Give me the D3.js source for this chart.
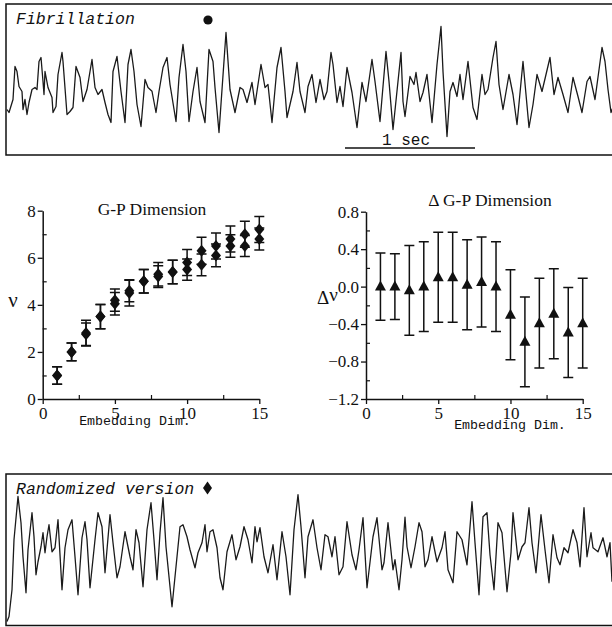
<!DOCTYPE html>
<html><head><meta charset="utf-8">
<script src="https://cdn.jsdelivr.net/npm/d3@7"></script>
<style>body{margin:0;background:#fff;} svg{display:block;}</style>
</head><body>
<script>
// ---------- DATA ----------
const sampleRate = 130; // samples per second (1 sec scale bar)

// Fibrillation trace (sample index, amplitude in arbitrary units)
const fibSample = [1,3,7,9,11,13,16,17,19,21,23,26,29,31,33,35,37,38,39,42,46,47,50,52,56,57,61,64,67,70,74,77,81,86,89,92,96,99,102,105,107,111,115,119,122,125,128,131,135,139,142,146,150,153,157,161,164,170,173,177,180,183,187,191,194,199,203,207,209,213,220,224,229,234,237,241,246,249,255,259,262,266,271,275,279,281,287,291,294,299,302,306,310,314,318,321,325,327,331,334,337,341,346,351,356,360,366,369,374,380,383,387,395,397,399,404,408,410,414,417,421,426,431,435,437,441,444,447,451,454,457,462,467,471,476,479,482,487,490,493,497,503,507,511,517,523,527,531,536,544,548,552,557,562,567,572,576,581,584,589,596,599,602,605,608];
const fibAmp = [-1.2,-1.32,-0.8,0.52,0.32,-0.28,-0.48,-1.2,-0.8,-1.4,-0.92,-0.4,-0.32,-0.4,0.72,0.88,-0.08,-0.6,0.32,-0.32,-0.72,-1.32,-1.08,0.2,1.08,0.72,-1.4,-1.28,-1.12,0.52,0.08,-0.88,-0.4,0.8,-0.32,-0.6,-0.4,-0.92,-1.4,-1.72,0.32,0.92,-0.48,-1.72,0.6,1.2,0.32,-1.0,-1.88,0.0,-0.32,-0.47,-1.32,-0.48,0.48,0.88,-0.2,-1.68,0.08,1.4,0.32,-1.68,-0.48,0.48,-0.88,-1.72,1.2,0.72,-0.32,-2.12,1.88,-0.4,-1.32,-0.32,-0.4,-0.92,-0.12,-1.0,0.6,-0.32,-0.2,-1.72,0.48,1.28,-0.48,-1.52,-0.48,0.68,-0.48,-1.32,-0.28,0.2,-0.92,0.0,-0.8,-0.48,1.08,0.6,-0.92,-0.28,-1.08,0.48,-0.52,-1.92,-0.12,-0.88,0.8,-0.08,-1.68,1.12,-0.08,-2.0,1.08,-0.88,-1.48,0.12,-0.2,0.28,-0.88,-0.52,0.2,-1.72,0.6,2.12,0.32,-2.28,-0.48,-0.12,-0.68,0.2,-0.8,0.72,-1.12,-1.6,0.2,-0.6,-0.4,0.88,1.52,-0.2,-1.2,0.2,-0.6,-1.8,0.72,-1.92,-1.0,0.2,-0.48,0.88,-0.6,0.08,-0.6,-1.32,0.08,-0.68,-1.32,-0.08,0.12,-0.8,1.28,0.72,-0.4,-1.32,-1.0];

// Randomized version trace
const randSample = [1,3,6,8,12,15,17,20,22,26,28,30,32,35,37,39,41,43,46,49,52,56,59,62,66,69,72,76,79,81,84,89,92,96,99,104,107,111,114,119,124,127,130,133,137,141,145,148,151,154,157,160,166,171,174,177,181,184,189,192,196,199,201,204,207,211,214,217,221,226,230,234,238,242,246,249,251,254,258,262,267,271,276,280,284,288,292,295,299,302,307,311,315,319,322,326,329,333,337,341,346,350,353,357,361,367,371,376,378,382,387,389,393,396,399,401,405,409,413,416,419,422,426,431,436,439,442,447,451,456,461,466,469,473,477,481,484,488,492,496,501,505,507,512,516,519,523,526,530,535,539,543,547,551,554,558,562,567,571,574,578,581,585,587,592,597,601,604,606];
const randAmp = [-2.87,-2.67,-1.6,0.4,2.13,1.08,-0.28,-1.72,0.0,1.48,0.52,-1.0,-0.48,0.12,0.68,-0.12,0.52,1.0,-0.08,0.08,1.2,-1.6,0.08,0.8,1.2,-0.28,-1.8,0.48,1.12,0.4,-1.52,0.4,1.48,0.92,-0.92,1.4,0.28,-1.12,-0.68,0.72,-0.28,-0.8,0.8,0.28,-1.48,0.8,1.88,0.4,-1.2,0.68,2.08,0.12,-2.28,-0.28,0.92,1.0,0.52,0.0,-0.72,-0.12,0.28,1.0,-0.08,0.72,0.8,0.08,-1.12,-1.6,-0.08,0.6,-0.4,0.12,0.92,0.4,-0.52,0.92,0.32,0.88,-0.28,-0.92,0.2,-1.2,0.72,-0.28,-1.8,0.8,2.2,0.92,-1.12,0.52,1.2,0.08,-0.8,0.6,0.52,-0.28,0.52,-1.0,-0.68,1.12,-0.2,-0.8,0.0,1.28,-1.52,0.52,1.28,-0.8,-0.52,1.08,-0.8,-0.4,-1.6,-0.4,1.3,0.12,-0.72,0.12,1.08,0.72,-0.68,-0.4,0.52,-0.48,0.08,0.72,-0.8,-1.32,0.72,0.4,-0.6,1.92,0.28,-1.8,1.32,1.48,-0.2,-1.6,1.08,0.68,-1.68,-0.12,1.48,-0.4,0.12,0.28,1.68,0.28,-0.92,1.4,0.0,-1.32,0.6,-0.32,-0.6,0.08,-0.12,0.8,0.28,-0.68,1.68,-0.28,0.68,0.08,-0.08,0.48,-0.28,0.28,-1.28];

// G-P dimension vs embedding dimension
const embedDim = [1,2,3,4,5,6,7,8,9,10,11,12,13,14,15];
const gpUpper    = [1.0,2.0,2.8,3.5,4.2,4.6,5.0,5.3,5.4,5.8,6.3,6.5,6.8,7.0,7.2];
const gpUpperErr = [0.37,0.38,0.55,0.52,0.47,0.47,0.5,0.5,0.5,0.55,0.57,0.55,0.55,0.55,0.55];
const gpLower    = [1.0,2.0,2.75,3.5,4.05,4.5,5.0,5.2,5.4,5.5,5.7,6.1,6.5,6.5,6.8];
const gpLowerErr = [0.37,0.38,0.48,0.52,0.48,0.55,0.5,0.46,0.5,0.45,0.46,0.48,0.48,0.45,0.47];

// Delta G-P dimension
const deltaGP    = [0.0,0.0,-0.04,0.0,0.1,0.1,0.02,0.05,0.0,-0.3,-0.59,-0.39,-0.29,-0.49,-0.39];
const deltaErr   = [0.36,0.35,0.48,0.48,0.48,0.48,0.48,0.48,0.48,0.48,0.48,0.48,0.48,0.48,0.48];

const dimTicks = [0,5,10,15];
const dimMinor = [2.5,7.5,12.5];
const gpTicks = [0,2,4,6,8];
const gpMinor = [1,3,5,7];
const deltaTicks = [-1.2,-0.8,-0.4,0.0,0.4,0.8];
const deltaMinor = [-1.0,-0.6,-0.2,0.2,0.6];

// ---------- DRAW ----------
const W = 612, H = 627;
const ink = "#111";
const svg = d3.select("body").append("svg").attr("width", W).attr("height", H);
const mono = "'Liberation Mono', 'DejaVu Sans Mono', monospace";
const serif = "'Liberation Serif', 'DejaVu Serif', serif";

function tracePanel(top, bottom, samples, amps, title, markerFn) {
  const g = svg.append("g");
  g.append("path")
    .attr("d", `M${W},${top}H6V${bottom}H${W}`)
    .attr("fill", "none").attr("stroke", ink).attr("stroke-width", 1.5);
  const mid = (top + bottom) / 2;
  const x = d3.scaleLinear().domain([0, 606]).range([6, 612]);
  const y = d3.scaleLinear().domain([-2.8, 2.8]).range([mid + 70, mid - 70]);
  const line = d3.line().x((d, i) => x(samples[i])).y(d => y(d));
  g.append("path").datum(amps).attr("d", line)
    .attr("fill", "none").attr("stroke", "#1a1a1a").attr("stroke-width", 1.3)
    .attr("stroke-linejoin", "round");
  g.append("text").attr("x", 16).attr("y", top + 20)
    .attr("font-family", mono).attr("font-style", "italic").attr("font-size", 16.5)
    .attr("fill", ink).text(title);
  markerFn(g, x, y);
  return {g, x, y};
}

tracePanel(4, 155, fibSample, fibAmp, "Fibrillation", (g, x, y) => {
  g.append("circle").attr("cx", 208).attr("cy", 20).attr("r", 4.6).attr("fill", ink);
  const t0 = 339;
  g.append("line").attr("x1", x(t0)).attr("x2", x(t0 + sampleRate))
    .attr("y1", 148).attr("y2", 148).attr("stroke", ink).attr("stroke-width", 1.5);
  g.append("text").attr("x", 382).attr("y", 145)
    .attr("font-family", mono).attr("font-size", 16).attr("fill", ink).text("1 sec");
});

tracePanel(474, 625.5, randSample, randAmp, "Randomized version", (g) => {
  g.append("path").attr("d", "M207.5,481.5L212,488L207.5,494.5L203,488Z").attr("fill", ink);
});

function styleAxis(sel) {
  sel.select(".domain").attr("stroke", ink).attr("stroke-width", 1.5);
  sel.selectAll(".tick line").attr("stroke", ink).attr("stroke-width", 1.3);
  sel.selectAll("text").attr("font-family", serif).attr("font-size", 17).attr("fill", ink);
}

function chart(opts) {
  const g = svg.append("g");
  const x = d3.scaleLinear().domain([0, 15]).range(opts.xr);
  const y = d3.scaleLinear().domain(opts.yd).range(opts.yr);
  const fmt = opts.fmt;
  // minor ticks (inside)
  g.append("g").attr("transform", `translate(${opts.xr[0]},0)`)
    .call(d3.axisRight(y).tickValues(opts.yMinor).tickSize(4).tickSizeOuter(0).tickFormat(""))
    .call(s => { s.select(".domain").remove(); s.selectAll(".tick line").attr("stroke", ink).attr("stroke-width", 1.2); });
  g.append("g").attr("transform", `translate(0,${opts.yr[0]})`)
    .call(d3.axisTop(x).tickValues(dimMinor).tickSize(4).tickSizeOuter(0).tickFormat(""))
    .call(s => { s.select(".domain").remove(); s.selectAll(".tick line").attr("stroke", ink).attr("stroke-width", 1.2); });
  // major axes
  g.append("g").attr("transform", `translate(${opts.xr[0]},0)`)
    .call(d3.axisLeft(y).tickValues(opts.yTicks).tickSize(5).tickSizeOuter(0).tickPadding(2).tickFormat(fmt))
    .call(styleAxis);
  g.append("g").attr("transform", `translate(0,${opts.yr[0]})`)
    .call(d3.axisBottom(x).tickValues(dimTicks).tickSize(5).tickSizeOuter(0).tickPadding(3).tickFormat(d3.format("d")))
    .call(styleAxis);
  // title
  g.append("text").attr("x", opts.titleX).attr("y", opts.titleY).attr("text-anchor", "middle")
    .attr("font-family", serif).attr("font-size", 17.5).attr("fill", ink).text(opts.title);
  g.append("text").attr("x", opts.xlabX).attr("y", opts.xlabY).attr("text-anchor", "middle")
    .attr("font-family", mono).attr("font-size", 13.3).attr("fill", ink).text("Embedding Dim.");
  return {g, x, y};
}

function errorBars(g, x, y, xs, vs, es) {
  const cap = 5;
  const eb = g.append("g").attr("stroke", ink).attr("stroke-width", 1.5).attr("fill", "none");
  xs.forEach((d, i) => {
    const cx = x(d), y1 = y(vs[i] + es[i]), y2 = y(vs[i] - es[i]);
    eb.append("path").attr("d", `M${cx},${y1}V${y2}M${cx - cap},${y1}H${cx + cap}M${cx - cap},${y2}H${cx + cap}`);
  });
}

// Left: G-P Dimension
const L = chart({xr: [42.7, 259.3], yd: [0, 8], yr: [399, 210.7], yTicks: gpTicks, yMinor: gpMinor,
  fmt: d3.format("d"), title: "G-P Dimension", titleX: 152, titleY: 215, xlabX: 135, xlabY: 425});
errorBars(L.g, L.x, L.y, embedDim, gpLower, gpLowerErr);
errorBars(L.g, L.x, L.y, embedDim, gpUpper, gpUpperErr);
const diamond = "M0,-6L5,0L0,6L-5,0Z";
[gpLower, gpUpper].forEach(series => {
  L.g.append("g").selectAll("path").data(series).join("path")
    .attr("d", diamond).attr("fill", ink)
    .attr("transform", (d, i) => `translate(${L.x(embedDim[i])},${L.y(d)})`);
});
L.g.append("text").attr("x", 13).attr("y", 307).attr("text-anchor", "middle")
  .attr("font-family", serif).attr("font-size", 21).attr("fill", ink).text("ν");

// Right: Delta G-P Dimension
const R = chart({xr: [366, 582.7], yd: [-1.2, 0.8], yr: [399, 211.7], yTicks: deltaTicks, yMinor: deltaMinor,
  fmt: d3.format(".1f"), title: "Δ G-P Dimension", titleX: 490, titleY: 206, xlabX: 510, xlabY: 429});
errorBars(R.g, R.x, R.y, embedDim, deltaGP, deltaErr);
const tri = "M0,-6L5.5,4L-5.5,4Z";
R.g.append("g").selectAll("path").data(deltaGP).join("path")
  .attr("d", tri).attr("fill", ink)
  .attr("transform", (d, i) => `translate(${R.x(embedDim[i])},${R.y(d)})`);
R.g.append("text").attr("x", 317).attr("y", 304)
  .attr("font-family", serif).attr("font-size", 19).attr("fill", ink)
  .call(t => { t.append("tspan").text("Δ"); t.append("tspan").attr("dy", -3).text("ν"); });
</script>
</body></html>
